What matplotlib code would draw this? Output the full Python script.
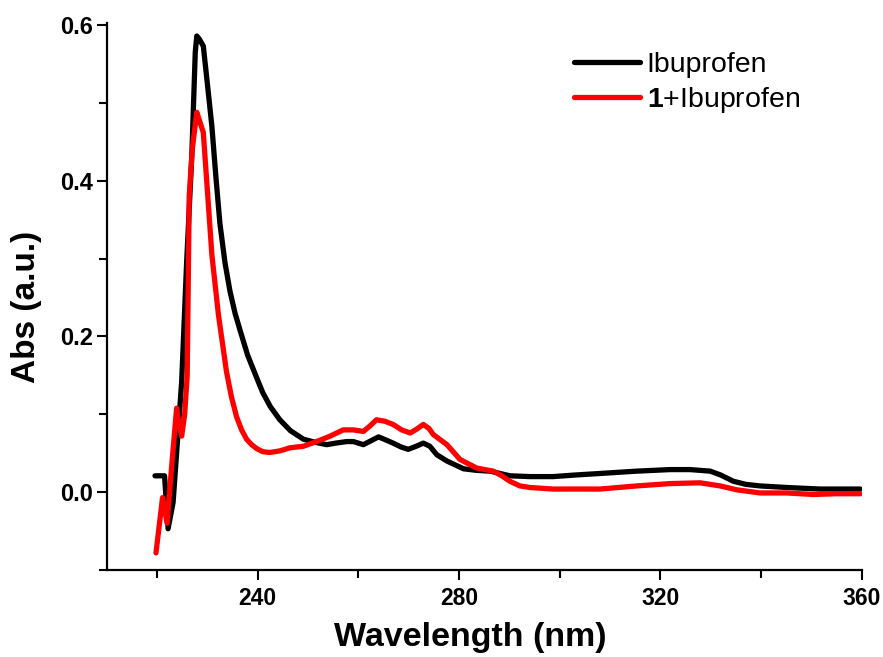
import matplotlib
matplotlib.use("Agg")
import matplotlib.pyplot as plt
from matplotlib.ticker import MultipleLocator

# ---------------- data ----------------
ibu_x = [219.6, 221.5, 222.2, 223.2, 224.0, 224.9, 225.9, 226.9, 227.6, 227.9, 228.4,
         229.2, 230.0, 230.9, 231.7, 232.5, 233.5, 234.5, 235.5, 236.5, 238.0, 239.8,
         241.0, 242.5, 244.4, 246.5, 249.1, 251.5, 253.7, 255.5, 257.7, 259.0, 261.0,
         262.5, 264.0, 265.5, 266.9, 268.5, 269.9, 271.5, 272.9, 274.2, 275.6, 277.6,
         280.9, 283.5, 286.2, 290.1, 294.1, 298.7, 303.0, 308.0, 315.3, 321.9, 325.9,
         329.9, 332.0, 334.5, 337.0, 339.8, 345.1, 351.7, 355.0, 359.7]
ibu_y = [0.021, 0.021, -0.047, -0.013, 0.060, 0.142, 0.297, 0.430, 0.565, 0.586, 0.582,
         0.573, 0.525, 0.470, 0.405, 0.345, 0.295, 0.258, 0.230, 0.208, 0.176, 0.147,
         0.128, 0.110, 0.093, 0.079, 0.068, 0.064, 0.061, 0.063, 0.065, 0.065, 0.061,
         0.066, 0.071, 0.067, 0.063, 0.058, 0.055, 0.059, 0.063, 0.059, 0.048, 0.040,
         0.030, 0.028, 0.027, 0.021, 0.020, 0.020, 0.022, 0.024, 0.027, 0.029, 0.029,
         0.027, 0.022, 0.014, 0.010, 0.008, 0.006, 0.004, 0.004, 0.004]

mix_x = [219.8, 221.1, 222.0, 223.0, 223.9, 224.3, 224.9, 225.5, 226.0, 226.4, 227.0,
         227.9, 228.4, 229.2, 230.2, 230.9, 232.2, 233.8, 234.8, 235.8, 236.8, 237.8,
         238.8, 239.8, 241.0, 242.4, 244.4, 246.4, 249.1, 251.7, 254.4, 257.0, 259.0,
         261.0, 262.3, 263.6, 265.3, 266.9, 268.6, 270.3, 271.6, 272.9, 274.0, 274.9,
         277.6, 280.2, 283.5, 286.8, 288.5, 290.1, 292.1, 294.1, 298.7, 308.0, 315.3,
         321.9, 327.9, 331.9, 335.2, 339.8, 345.1, 350.4, 355.0, 359.7]
mix_y = [-0.078, -0.007, -0.040, 0.040, 0.108, 0.090, 0.072, 0.100, 0.150, 0.380, 0.440,
         0.488, 0.478, 0.462, 0.370, 0.305, 0.228, 0.155, 0.122, 0.097, 0.080, 0.068,
         0.061, 0.056, 0.052, 0.051, 0.053, 0.057, 0.059, 0.065, 0.072, 0.080, 0.080,
         0.078, 0.085, 0.093, 0.091, 0.087, 0.080, 0.076, 0.081, 0.087, 0.082, 0.074,
         0.061, 0.042, 0.031, 0.027, 0.021, 0.014, 0.008, 0.006, 0.004, 0.004, 0.008,
         0.011, 0.012, 0.008, 0.003, -0.001, -0.001, -0.003, -0.002, -0.002]

series_labels = ["Ibuprofen", r"$\mathbf{1}$+Ibuprofen"]
series_colors = ["#000000", "#ff0000"]
x_ticks = [240, 280, 320, 360]
y_ticks = [0.0, 0.2, 0.4, 0.6]

# ---------------- style ----------------
plt.rcParams['font.family'] = ["Liberation Sans", "DejaVu Sans"]
plt.rcParams['mathtext.fontset'] = 'custom'
plt.rcParams['mathtext.rm'] = 'Liberation Sans'
plt.rcParams['mathtext.bf'] = 'Liberation Sans:bold'

fig = plt.figure(figsize=(8.83, 6.57), dpi=100)
ax = fig.add_axes([0.1208, 0.1324, 0.8551, 0.8330])

ax.plot(ibu_x, ibu_y, color=series_colors[0], lw=3.8, label=series_labels[0],
        solid_joinstyle='round', solid_capstyle='round')
ax.plot(mix_x, mix_y, color=series_colors[1], lw=3.8, label=series_labels[1],
        solid_joinstyle='round', solid_capstyle='round')

ax.set_xlim(210, 360)
ax.set_ylim(-0.1, 0.603)
ax.set_xticks(x_ticks)
ax.set_yticks(y_ticks)
ax.set_yticklabels([f"{v:.1f}" for v in y_ticks])
ax.xaxis.set_minor_locator(MultipleLocator(20))
ax.yaxis.set_minor_locator(MultipleLocator(0.1))

for s in ['top', 'right']:
    ax.spines[s].set_visible(False)
for s in ['left', 'bottom']:
    ax.spines[s].set_linewidth(1.6)

ax.tick_params(which='major', direction='out', length=7, width=1.5)
ax.tick_params(which='minor', direction='out', length=6, width=1.5)
ax.tick_params(axis='x', which='major', pad=5)
ax.tick_params(axis='y', which='major', pad=3)

for lab in ax.get_xticklabels():
    lab.set_fontweight('bold')
    lab.set_fontsize(16.5)
for lab in ax.get_yticklabels():
    lab.set_fontweight('bold')
    lab.set_fontsize(17)

ax.set_xlabel("Wavelength (nm)", fontsize=24.5, fontweight='bold')
ax.xaxis.set_label_coords(0.481, -0.095)
ax.set_ylabel("Abs (a.u.)", fontsize=24, fontweight='bold')
ax.yaxis.set_label_coords(-0.085, 0.48)

leg = ax.legend(loc='upper left', bbox_to_anchor=(0.634, 0.942),
                bbox_transform=fig.transFigure, frameon=False, fontsize=20.5,
                handlelength=2.3, handletextpad=0.25, labelspacing=0.25, borderpad=0)

fig.savefig("out.png", dpi=100)
